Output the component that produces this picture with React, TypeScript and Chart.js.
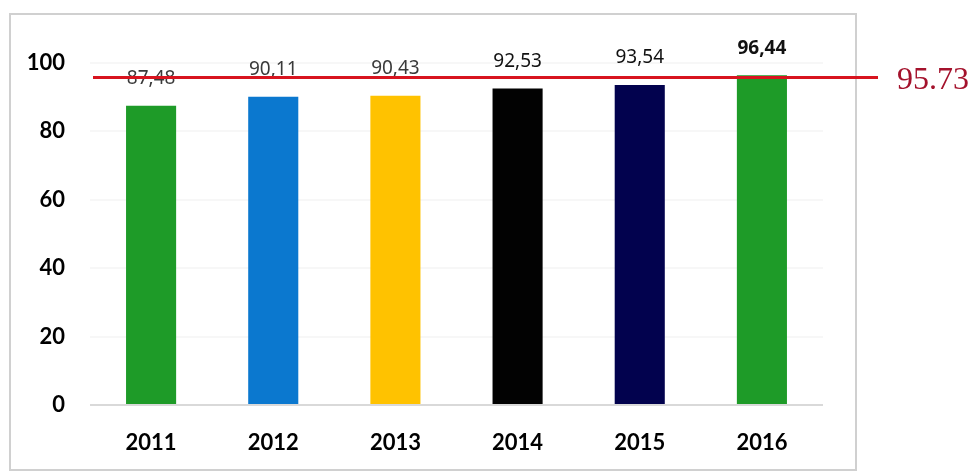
import React, { useEffect, useRef } from "react";
import { Chart, registerables } from "chart.js";

Chart.register(...registerables);

const years = ["2011", "2012", "2013", "2014", "2015", "2016"];
const values = [87.48, 90.11, 90.43, 92.53, 93.54, 96.44];
const valueLabels = ["87,48", "90,11", "90,43", "92,53", "93,54", "96,44"];
const barColors = ["#1E9B28", "#0B78CF", "#FFC200", "#020202", "#02024E", "#1E9B28"];
const labelBold = [false, false, false, false, false, true];
const labelColors = ["#3a3a3a", "#3a3a3a", "#3a3a3a", "#111111", "#111111", "#111111"];
const referenceValue = 95.73;
const referenceLabel = "95.73";
const yMin = 0;
const yMax = 100;
const yStep = 20;

const overlayPlugin = {
  id: "overlay",
  beforeDraw(chart: any) {
    const ctx = chart.ctx;
    ctx.save();
    ctx.fillStyle = "#ffffff";
    ctx.fillRect(0, 0, chart.width, chart.height);
    ctx.strokeStyle = "#d0d0d0";
    ctx.lineWidth = 2;
    ctx.strokeRect(10, 14, 846, 456);
    ctx.restore();
  },
  afterDatasetsDraw(chart: any) {
    const ctx = chart.ctx;
    const meta = chart.getDatasetMeta(0);
    const yScale = chart.scales.y;
    ctx.save();
    ctx.textAlign = "center";
    ctx.textBaseline = "middle";
    meta.data.forEach((bar: any, i: number) => {
      ctx.font = `${labelBold[i] ? "bold " : ""}19px "Noto Sans", "Open Sans", sans-serif`;
      ctx.fillStyle = labelColors[i];
      ctx.fillText(valueLabels[i], bar.x, bar.y - 27);
    });
    const ry = yScale.getPixelForValue(referenceValue);
    const area = chart.chartArea;
    ctx.strokeStyle = "#D8141F";
    ctx.lineWidth = 3;
    ctx.beginPath();
    ctx.moveTo(area.left + 3, ry);
    ctx.lineTo(area.right + 55, ry);
    ctx.stroke();
    ctx.font = `32px "Liberation Serif", "DejaVu Serif", serif`;
    ctx.fillStyle = "#A4122C";
    ctx.textAlign = "left";
    ctx.fillText(referenceLabel, area.right + 74, ry + 3);
    ctx.restore();
  },
};

export default function App() {
  const canvasRef = useRef<HTMLCanvasElement | null>(null);

  useEffect(() => {
    if (!canvasRef.current) return;
    const chart = new Chart(canvasRef.current, {
      type: "bar",
      data: {
        labels: years,
        datasets: [
          {
            data: values,
            backgroundColor: barColors,
            borderWidth: 0,
            barPercentage: 0.41,
            categoryPercentage: 1,
          },
        ],
      },
      options: {
        responsive: false,
        animation: false,
        layout: { padding: { left: 0, top: 63, right: 148, bottom: 0 } },
        plugins: {
          legend: { display: false },
          tooltip: { enabled: false },
        },
        scales: {
          x: {
            grid: { display: false, drawTicks: false },
            border: { display: false },
            ticks: {
              padding: 25,
              color: "#000",
              font: { family: "Lato, 'Open Sans', sans-serif", size: 22, weight: "bold" },
            },
            afterFit: (s: any) => {
              s.height = 69;
            },
          },
          y: {
            min: yMin,
            max: yMax,
            ticks: {
              stepSize: yStep,
              padding: 25,
              color: "#000",
              font: { family: "Lato, 'Open Sans', sans-serif", size: 22, weight: "bold" },
            },
            grid: {
              drawTicks: false,
              color: (c: any) => (c.tick && c.tick.value === 0 ? "#d9d9d9" : "rgba(0,0,0,0.03)"),
              lineWidth: 2,
            },
            border: { display: false },
            afterFit: (s: any) => {
              s.width = 90;
            },
          },
        },
      },
      plugins: [overlayPlugin],
    });
    return () => chart.destroy();
  }, []);

  return (
    <div style={{ position: "fixed", left: 0, top: 0, width: 971, height: 474, background: "#fff" }}>
      <canvas ref={canvasRef} width={971} height={474} style={{ display: "block" }} />
    </div>
  );
}
